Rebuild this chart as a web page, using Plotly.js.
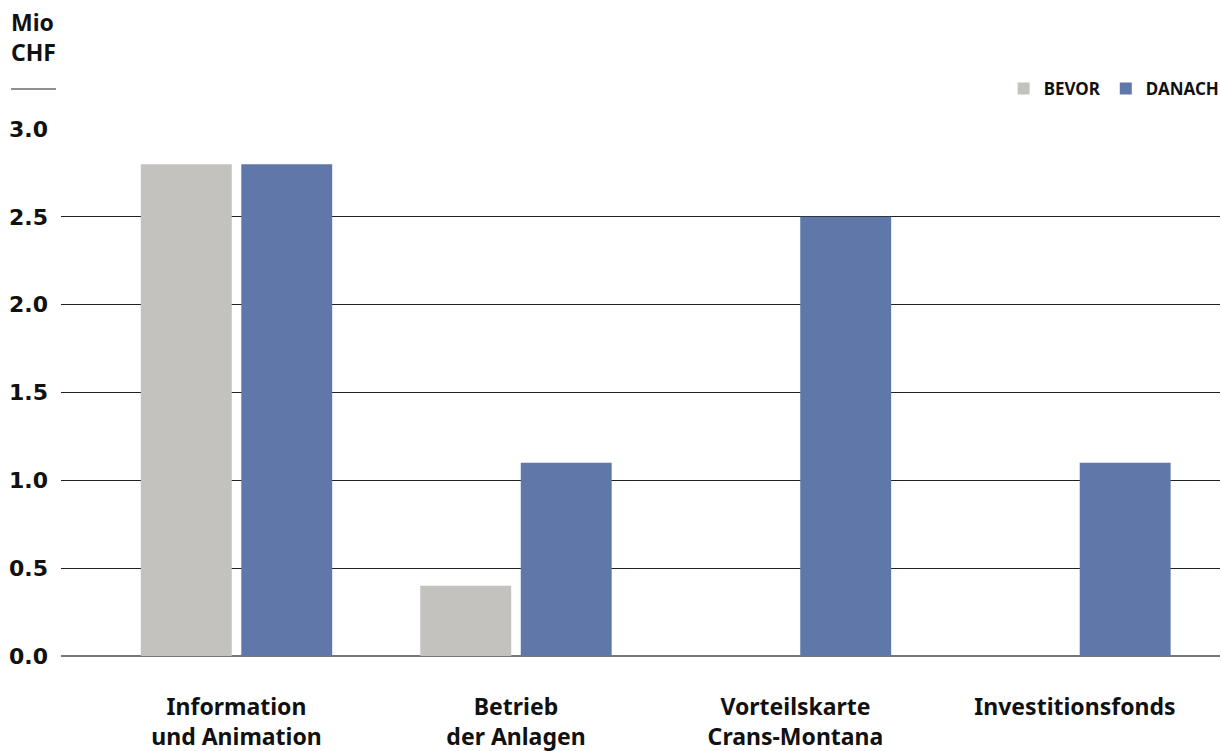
<!DOCTYPE html>
<html>
<head>
<meta charset="utf-8">
<script src="https://cdn.plot.ly/plotly-3.0.1.min.js"></script>
<style>html,body{margin:0;padding:0;background:#fff;}#chart{width:1221px;height:751px;}</style>
</head>
<body>
<div id="chart"></div>
<script>
const categories = ["Information<br>und Animation", "Betrieb<br>der Anlagen", "Vorteilskarte<br>Crans-Montana", "Investitionsfonds"];
const bevor = [2.8, 0.4, null, null];
const danach = [2.8, 1.1, 2.5, 1.1];
const yTicks = [0, 0.5, 1.0, 1.5, 2.0, 2.5, 3.0];
const yTickText = ["0.0", "0.5", "1.0", "1.5", "2.0", "2.5", "3.0"];

const xIdx = categories.map((_, i) => i);
const FONT = "Noto Sans, Open Sans, DejaVu Sans, sans-serif";
const NUMFONT = "DejaVu Sans, Noto Sans, sans-serif";

const traces = [
  {type: "bar", name: "BEVOR", x: xIdx, y: bevor, marker: {color: "#c3c2bf"}, hoverinfo: "skip"},
  {type: "bar", name: "DANACH", x: xIdx, y: danach, marker: {color: "#5f78a9"}, hoverinfo: "skip"}
];

const L = 61, R = 1220, T = 129, B = 656;
const W = R - L, H = B - T;
const px2x = p => (p - L) / W;
const py2y = p => (B - p) / H;

const layout = {
  width: 1221, height: 751,
  margin: {l: L, r: 1221 - R, t: T, b: 751 - B, pad: 0, autoexpand: false},
  paper_bgcolor: "#fff", plot_bgcolor: "#fff",
  font: {family: FONT, color: "#111", size: 14},
  barmode: "group",
  bargap: 0.281,
  bargroupgap: 0.095,
  showlegend: true,
  legend: {
    orientation: "h", x: 1.004, xanchor: "right", y: py2y(71), yanchor: "top",
    font: {family: FONT, size: 17, weight: 700, color: "#111"},
    itemwidth: 30, traceorder: "normal", bgcolor: "rgba(0,0,0,0)"
  },
  xaxis: {
    range: [-0.628, 3.519],
    tickvals: xIdx, ticktext: categories,
    showgrid: false, zeroline: false, showline: false,
    ticks: "", ticklabelstandoff: 35,
    tickfont: {family: FONT, size: 23, weight: 700, color: "#111"},
    fixedrange: true
  },
  yaxis: {
    range: [0, 3],
    tickvals: yTicks, ticktext: yTickText,
    showgrid: true, gridcolor: "#222", gridwidth: 1,
    zeroline: true, zerolinecolor: "#777", zerolinewidth: 2,
    showline: false, ticks: "", ticklabelstandoff: 12,
    tickfont: {family: NUMFONT, size: 22, weight: 700, color: "#111"},
    fixedrange: true
  },
  annotations: [{
    xref: "paper", yref: "paper", x: px2x(9), y: py2y(4),
    xanchor: "left", yanchor: "top", align: "left", showarrow: false,
    text: "Mio<br>CHF",
    font: {family: FONT, size: 23, weight: 700, color: "#111"}
  }],
  shapes: [{
    type: "line", xref: "paper", yref: "paper",
    x0: px2x(11), x1: px2x(56), y0: py2y(89), y1: py2y(89),
    line: {color: "#222", width: 1.2}
  }]
};

Plotly.newPlot("chart", traces, layout, {displayModeBar: false, staticPlot: true});
</script>
</body>
</html>
